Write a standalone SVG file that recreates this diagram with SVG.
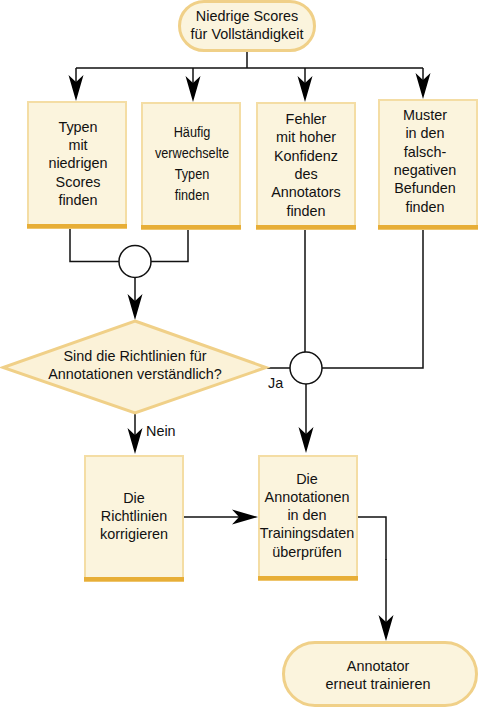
<svg xmlns="http://www.w3.org/2000/svg" width="478" height="708" viewBox="0 0 478 708">
<style>
text{font-family:"Liberation Sans",Arial,sans-serif;font-size:14.4px;fill:#111;text-anchor:middle}
.lbl{text-anchor:start}
.cond{font-size:15.5px}
.box{fill:#fbf4dd;stroke:#f4dda4;stroke-width:2}
.band{fill:#e7ae37}
.term{fill:#fbf4dd;stroke:#f0d088;stroke-width:3}
.dia{fill:#fbf2d8;stroke:#f0d088;stroke-width:3}
.ln{fill:none;stroke:#111;stroke-width:1.5}
.arr{fill:none;stroke:#111;stroke-width:1.5;marker-end:url(#ah)}
.jn{fill:#fff;stroke:#111;stroke-width:1.5}
</style>
<defs>
<marker id="ah" markerUnits="userSpaceOnUse" viewBox="-8 -8 28 16" refX="0" refY="0" markerWidth="28" markerHeight="16" orient="auto">
<path d="M19,0 L-7,-7.5 L0,0 L-7,7.5 Z" fill="#000"/>
</marker>
</defs>

<g id="connectors">
<path class="ln" d="M247,52 V68 M76,68 H423"/>
<path class="arr" d="M76,68 V82"/>
<path class="arr" d="M193,68 V83"/>
<path class="arr" d="M305,68 V83"/>
<path class="arr" d="M423,68 V80"/>
<path class="ln" d="M70,228 V261.5 H119 M151,261.5 H188 V229"/>
<path class="arr" d="M135,277.5 V301"/>
<path class="ln" d="M267,368 H290 M305,229 V352 M423,229 V368 H322"/>
<path class="arr" d="M306,384 V434"/>
<path class="arr" d="M135,413 V435"/>
<path class="arr" d="M184,517 H239"/>
<path class="ln" d="M358,517 H386 V560"/>
<path class="arr" d="M386,559 V622"/>
<text class="lbl" x="268" y="388">Ja</text>
<text class="lbl" x="146" y="436">Nein</text>
</g>

<g id="j1"><circle class="jn" cx="135" cy="261.5" r="16"/></g>
<g id="j2"><circle class="jn" cx="306" cy="368" r="16"/></g>

<g id="start">
<rect class="term" x="179.5" y="1.5" width="135" height="49" rx="24.5"/>
<text x="247" y="20.5">Niedrige Scores</text>
<text x="247" y="38.8">für Vollständigkeit</text>
</g>

<g id="b1">
<rect class="box" x="28" y="102" width="98" height="126"/>
<rect class="band" x="27" y="224" width="100" height="4.5"/>
<text x="78" y="131.8">Typen</text>
<text x="78" y="150.1">mit</text>
<text x="78" y="168.4">niedrigen</text>
<text x="78" y="186.7">Scores</text>
<text x="78" y="205">finden</text>
</g>

<g id="b2">
<rect class="box" x="142" y="103" width="98" height="126"/>
<rect class="band" x="141" y="225" width="100" height="4.5"/>
<g transform="translate(192 0) scale(0.82 1)">
<text class="cond" x="0" y="137">Häufig</text>
<text class="cond" x="0" y="158">verwechselte</text>
<text class="cond" x="0" y="179">Typen</text>
<text class="cond" x="0" y="200">finden</text>
</g>
</g>

<g id="b3">
<rect class="box" x="257" y="103" width="98" height="126"/>
<rect class="band" x="256" y="225" width="100" height="4.5"/>
<text x="306" y="124">Fehler</text>
<text x="306" y="142.3">mit hoher</text>
<text x="306" y="160.6">Konfidenz</text>
<text x="306" y="178.9">des</text>
<text x="306" y="197.2">Annotators</text>
<text x="306" y="215.5">finden</text>
</g>

<g id="b4">
<rect class="box" x="379" y="100" width="98" height="129"/>
<rect class="band" x="378" y="225" width="100" height="4.5"/>
<text x="425" y="120">Muster</text>
<text x="425" y="138.3">in den</text>
<text x="425" y="156.6">falsch-</text>
<text x="425" y="174.9">negativen</text>
<text x="425" y="193.2">Befunden</text>
<text x="425" y="211.5">finden</text>
</g>

<g id="decision">
<polygon class="dia" points="135,321 266,367.5 135,413 3,367.5"/>
<text x="135" y="360.8">Sind die Richtlinien für</text>
<text x="135" y="379.1">Annotationen verständlich?</text>
</g>

<g id="b5">
<rect class="box" x="85" y="456" width="98" height="125"/>
<rect class="band" x="84" y="577" width="100" height="4.5"/>
<text x="134" y="502.8">Die</text>
<text x="134" y="521.1">Richtlinien</text>
<text x="134" y="539.4">korrigieren</text>
</g>

<g id="b6">
<rect class="box" x="259" y="456" width="98" height="124"/>
<rect class="band" x="258" y="576" width="100" height="4.5"/>
<text x="307" y="483.5">Die</text>
<text x="307" y="501.8">Annotationen</text>
<text x="307" y="520.1">in den</text>
<text x="307" y="538.4">Trainingsdaten</text>
<text x="307" y="556.7">überprüfen</text>
</g>

<g id="end">
<rect class="term" x="283.5" y="642.5" width="193" height="63" rx="31.5"/>
<text x="378" y="670.8">Annotator</text>
<text x="378" y="689.1">erneut trainieren</text>
</g>
</svg>
